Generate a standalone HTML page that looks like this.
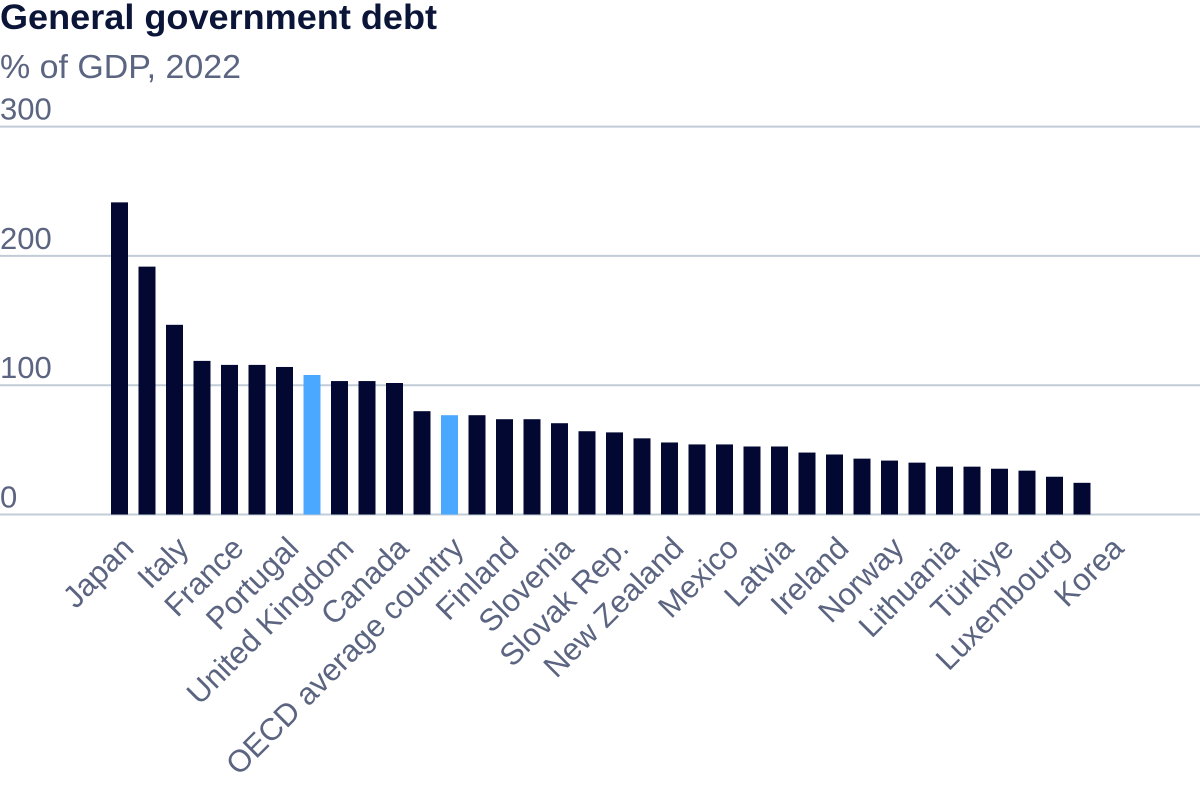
<!DOCTYPE html>
<html><head><meta charset="utf-8"><style>
body{margin:0;background:#fff;font-family:"Liberation Sans",Arial,sans-serif}
</style></head><body>
<svg width="1200" height="800" viewBox="0 0 1200 800" xmlns="http://www.w3.org/2000/svg">
<text x="0" y="29" font-size="35" font-weight="bold" fill="#0b1538" textLength="437" lengthAdjust="spacingAndGlyphs">General government debt</text>
<text x="0" y="78" font-size="33" fill="#5b6480" textLength="241" lengthAdjust="spacingAndGlyphs">% of GDP, 2022</text>
<g id="grid"></g><g id="bars"></g><g id="xlabels"></g>
</svg>
<script>
const categories=["Japan","Greece","Italy","United States","France","Spain","Portugal","Euro area","United Kingdom","Belgium","Canada","Austria","OECD average country","Hungary","Finland","Germany","Slovenia","Israel","Slovak Rep.","Poland","New Zealand","Netherlands","Mexico","Colombia","Latvia","Sweden","Ireland","Australia","Norway","Czechia","Lithuania","Denmark","Türkiye","Switzerland","Luxembourg","Estonia","Korea"];
const values=[241.4,191.7,146.7,118.8,115.7,115.7,114.1,107.9,103.2,103.2,101.7,79.9,76.8,76.8,73.7,73.7,70.6,64.4,63.5,58.9,55.7,54.2,54.2,52.6,52.6,47.9,46.4,43.2,41.7,40.1,37,37,35.4,33.9,29.2,24.5,null];
const highlighted=[7,12];
const yTicks=[0,100,200,300];
const NS="http://www.w3.org/2000/svg";
const y0=514.5,pxPer=129.3;
const y=v=>y0-v*pxPer/100;
const x0=119.5,pitch=27.5,bw=17;
const x=i=>x0+i*pitch;
const grid=document.getElementById('grid'),bars=document.getElementById('bars'),xl=document.getElementById('xlabels');
yTicks.forEach(t=>{
 const l=document.createElementNS(NS,'line');
 l.setAttribute('x1',0);l.setAttribute('x2',1200);l.setAttribute('y1',y(t));l.setAttribute('y2',y(t));
 l.setAttribute('stroke','#c2ccd6');l.setAttribute('stroke-width',2);
 
 
 grid.appendChild(l);
 const tx=document.createElementNS(NS,'text');
 tx.setAttribute('x',0);tx.setAttribute('y',y(t)-7);tx.setAttribute('font-size',31);tx.setAttribute('fill','#5b6480');
 tx.textContent=t;
 
 
 grid.appendChild(tx);
});
values.forEach((v,i)=>{
 if(v==null)return;
 const r=document.createElementNS(NS,'rect');
 r.setAttribute('x',x(i)-bw/2);r.setAttribute('width',bw);
 r.setAttribute('y',y(v));r.setAttribute('height',y0-y(v));
 r.setAttribute('fill',highlighted.includes(i)?'#4aa8ff':'#030832');
 
 
 bars.appendChild(r);
});
categories.forEach((c,i)=>{
 if(i%2)return;
 const t=document.createElementNS(NS,'text');
 const ax=x(i)+16,ay=550;
 t.setAttribute('x',ax);t.setAttribute('y',ay);
 t.setAttribute('text-anchor','end');t.setAttribute('font-size',31);t.setAttribute('fill','#5b6480');
 t.setAttribute('transform','rotate(-45 '+ax+' '+ay+')');
 t.textContent=c;
 
 
 xl.appendChild(t);
});
</script>
</body></html>
